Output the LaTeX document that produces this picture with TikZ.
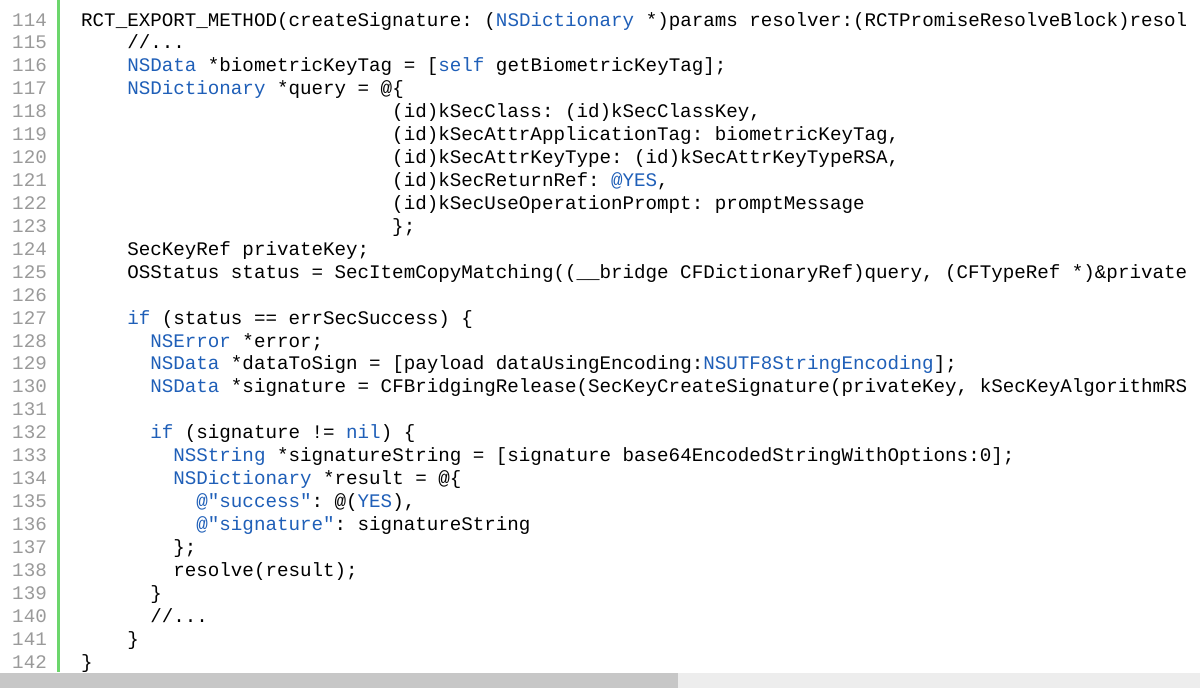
\documentclass[tikz,border=0pt]{standalone}
\usepackage{fontspec}
\newfontfamily\code{Liberation Mono}[WordSpace={1,0,0},PunctuationSpace=WordSpace]
\definecolor{kw}{HTML}{1F5FB8}
\definecolor{ln}{HTML}{9A9A9A}
\definecolor{bar}{HTML}{6CD66C}
\newcommand\K[1]{\textcolor{kw}{#1}}
\begin{document}
\begin{tikzpicture}[x=1pt,y=-1pt,
  cl/.style={anchor=base west,inner sep=0pt,font=\code\fontsize{19.2}{20}\selectfont\frenchspacing},
  nl/.style={anchor=base east,inner sep=0pt,text=ln,font=\code\fontsize{19.2}{20}\selectfont}]
\useasboundingbox (0,0) rectangle (1200,688);
\fill[white] (0,0) rectangle (1200,688);
\fill[bar] (57,0) rectangle (60,672);
\fill[black!7] (0,673) rectangle (1200,688);
\fill[black!22] (0,673) rectangle (678,688);
\foreach \n [count=\i from 0] in {114,...,142}{
  \node[nl] (n\n) at (47,{26+22.93*\i}) {\n};
}
\begin{scope}
\clip (62,0) rectangle (1188,672);
\def\L#1#2#3{\node[cl] (l#1) at ({81+11.52*#2},{26+22.93*(#1-114)}) {#3};}
\L{114}{0}{RCT\_EXPORT\_METHOD(createSignature: (\K{NSDictionary} *)params resolver:(RCTPromiseResolveBlock)resol}
\L{115}{4}{//...}
\L{116}{4}{\K{NSData} *biometricKeyTag = [\K{self} getBiometricKeyTag];}
\L{117}{4}{\K{NSDictionary} *query = @\{}
\L{118}{27}{(id)kSecClass: (id)kSecClassKey,}
\L{119}{27}{(id)kSecAttrApplicationTag: biometricKeyTag,}
\L{120}{27}{(id)kSecAttrKeyType: (id)kSecAttrKeyTypeRSA,}
\L{121}{27}{(id)kSecReturnRef: \K{@YES},}
\L{122}{27}{(id)kSecUseOperationPrompt: promptMessage}
\L{123}{27}{\};}
\L{124}{4}{SecKeyRef privateKey;}
\L{125}{4}{OSStatus status = SecItemCopyMatching((\_\_bridge CFDictionaryRef)query, (CFTypeRef *)\&private}
\L{127}{4}{\K{if} (status == errSecSuccess) \{}
\L{128}{6}{\K{NSError} *error;}
\L{129}{6}{\K{NSData} *dataToSign = [payload dataUsingEncoding:\K{NSUTF8StringEncoding}];}
\L{130}{6}{\K{NSData} *signature = CFBridgingRelease(SecKeyCreateSignature(privateKey, kSecKeyAlgorithmRS}
\L{132}{6}{\K{if} (signature != \K{nil}) \{}
\L{133}{8}{\K{NSString} *signatureString = [signature base64EncodedStringWithOptions:0];}
\L{134}{8}{\K{NSDictionary} *result = @\{}
\L{135}{10}{\K{@"success"}: @(\K{YES}),}
\L{136}{10}{\K{@"signature"}: signatureString}
\L{137}{8}{\};}
\L{138}{8}{resolve(result);}
\L{139}{6}{\}}
\L{140}{6}{//...}
\L{141}{4}{\}}
\L{142}{0}{\}}
\end{scope}
\end{tikzpicture}
\end{document}
